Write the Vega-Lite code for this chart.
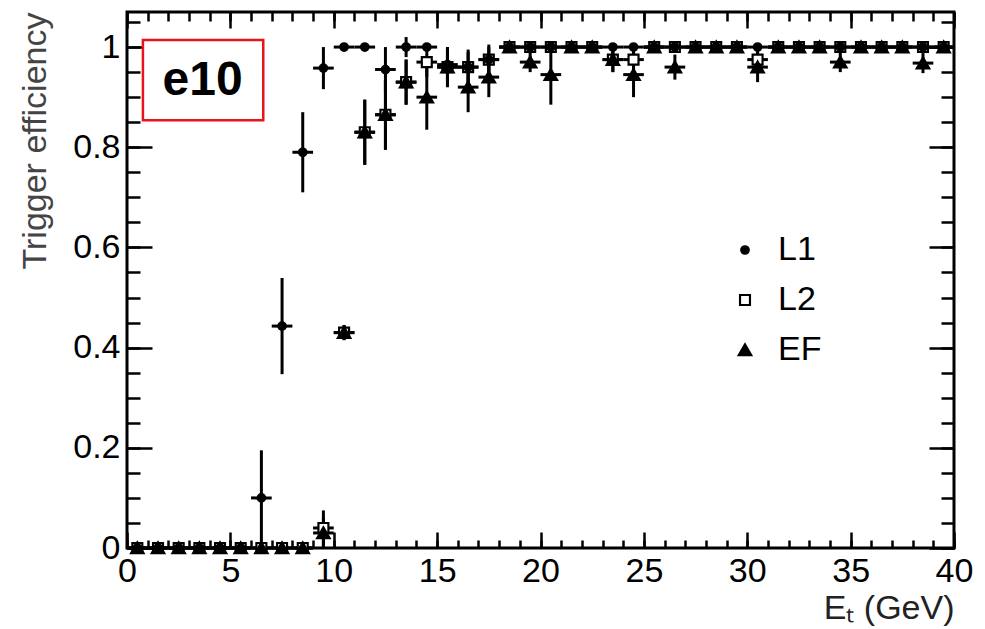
{
  "$schema": "https://vega.github.io/schema/vega-lite/v6.json",
  "width": 827,
  "height": 536,
  "autosize": {"type": "none"},
  "padding": {"left": 127, "top": 12, "right": 31, "bottom": 81},
  "background": "white",
  "config": {
    "view": {"stroke": "black", "strokeWidth": 3},
    "font": "Liberation Sans",
    "axis": {"domain": false, "grid": false, "tickColor": "black", "tickWidth": 2.5, "labelOverlap": false, "labelFlush": false, "labelColor": "black", "labelFont": "Liberation Sans", "labelFontSize": 34},
    "legend": {"orient": "none", "legendX": 601, "legendY": 221, "padding": 0, "labelFont": "Liberation Sans", "labelFontSize": 34, "labelColor": "black", "labelOffset": 16, "rowPadding": 16}
  },
  "datasets": {
    "pts": [
      {"s":"L2","x":0.5,"y":0,"e":0},{"s":"L2","x":1.5,"y":0,"e":0},{"s":"L2","x":2.5,"y":0,"e":0},{"s":"L2","x":3.5,"y":0,"e":0},{"s":"L2","x":4.5,"y":0,"e":0},{"s":"L2","x":5.5,"y":0,"e":0},{"s":"L2","x":6.5,"y":0,"e":0},{"s":"L2","x":7.5,"y":0,"e":0},{"s":"L2","x":8.5,"y":0,"e":0},
      {"s":"L2","x":9.5,"y":0.04,"e":0.035},{"s":"L2","x":10.5,"y":0.43,"e":0.015},{"s":"L2","x":11.5,"y":0.83,"e":0.065},{"s":"L2","x":12.5,"y":0.865,"e":0.07},{"s":"L2","x":13.5,"y":0.93,"e":0.045},{"s":"L2","x":14.5,"y":0.97,"e":0.03},{"s":"L2","x":15.5,"y":0.96,"e":0.04},{"s":"L2","x":16.5,"y":0.96,"e":0.035},{"s":"L2","x":17.5,"y":0.975,"e":0.03},
      {"s":"L2","x":18.5,"y":1,"e":0},{"s":"L2","x":19.5,"y":1,"e":0},{"s":"L2","x":20.5,"y":1,"e":0},{"s":"L2","x":21.5,"y":1,"e":0},{"s":"L2","x":22.5,"y":1,"e":0},{"s":"L2","x":23.5,"y":0.975,"e":0.025},{"s":"L2","x":24.5,"y":0.975,"e":0.025},{"s":"L2","x":25.5,"y":1,"e":0},{"s":"L2","x":26.5,"y":1,"e":0},{"s":"L2","x":27.5,"y":1,"e":0},{"s":"L2","x":28.5,"y":1,"e":0},{"s":"L2","x":29.5,"y":1,"e":0},{"s":"L2","x":30.5,"y":0.975,"e":0.025},{"s":"L2","x":31.5,"y":1,"e":0},{"s":"L2","x":32.5,"y":1,"e":0},{"s":"L2","x":33.5,"y":1,"e":0},{"s":"L2","x":34.5,"y":1,"e":0},{"s":"L2","x":35.5,"y":1,"e":0},{"s":"L2","x":36.5,"y":1,"e":0},{"s":"L2","x":37.5,"y":1,"e":0},{"s":"L2","x":38.5,"y":1,"e":0},{"s":"L2","x":39.5,"y":1,"e":0},
      {"s":"L1","x":0.5,"y":0,"e":0},{"s":"L1","x":1.5,"y":0,"e":0},{"s":"L1","x":2.5,"y":0,"e":0},{"s":"L1","x":3.5,"y":0,"e":0},{"s":"L1","x":4.5,"y":0,"e":0},{"s":"L1","x":5.5,"y":0,"e":0},
      {"s":"L1","x":6.5,"y":0.1,"e":0.095},{"s":"L1","x":7.5,"y":0.443,"e":0.096},{"s":"L1","x":8.5,"y":0.79,"e":0.08},{"s":"L1","x":9.5,"y":0.958,"e":0.042},{"s":"L1","x":10.5,"y":1,"e":0},{"s":"L1","x":11.5,"y":1,"e":0},{"s":"L1","x":12.5,"y":0.955,"e":0.045},{"s":"L1","x":13.5,"y":1,"e":0.02},{"s":"L1","x":14.5,"y":1,"e":0},{"s":"L1","x":15.5,"y":0.965,"e":0.03},{"s":"L1","x":16.5,"y":0.96,"e":0.03},{"s":"L1","x":17.5,"y":0.975,"e":0.025},
      {"s":"L1","x":18.5,"y":1,"e":0},{"s":"L1","x":19.5,"y":1,"e":0},{"s":"L1","x":20.5,"y":1,"e":0},{"s":"L1","x":21.5,"y":1,"e":0},{"s":"L1","x":22.5,"y":1,"e":0},{"s":"L1","x":23.5,"y":1,"e":0},{"s":"L1","x":24.5,"y":1,"e":0},{"s":"L1","x":25.5,"y":1,"e":0},{"s":"L1","x":26.5,"y":1,"e":0},{"s":"L1","x":27.5,"y":1,"e":0},{"s":"L1","x":28.5,"y":1,"e":0},{"s":"L1","x":29.5,"y":1,"e":0},{"s":"L1","x":30.5,"y":1,"e":0},{"s":"L1","x":31.5,"y":1,"e":0},{"s":"L1","x":32.5,"y":1,"e":0},{"s":"L1","x":33.5,"y":1,"e":0},{"s":"L1","x":34.5,"y":1,"e":0},{"s":"L1","x":35.5,"y":1,"e":0},{"s":"L1","x":36.5,"y":1,"e":0},{"s":"L1","x":37.5,"y":1,"e":0},{"s":"L1","x":38.5,"y":1,"e":0},{"s":"L1","x":39.5,"y":1,"e":0},
      {"s":"EF","x":0.5,"y":0,"e":0},{"s":"EF","x":1.5,"y":0,"e":0},{"s":"EF","x":2.5,"y":0,"e":0},{"s":"EF","x":3.5,"y":0,"e":0},{"s":"EF","x":4.5,"y":0,"e":0},{"s":"EF","x":5.5,"y":0,"e":0},{"s":"EF","x":6.5,"y":0,"e":0},{"s":"EF","x":7.5,"y":0,"e":0},{"s":"EF","x":8.5,"y":0,"e":0},
      {"s":"EF","x":9.5,"y":0.03,"e":0.03},{"s":"EF","x":10.5,"y":0.43,"e":0.015},{"s":"EF","x":11.5,"y":0.83,"e":0.065},{"s":"EF","x":12.5,"y":0.865,"e":0.07},{"s":"EF","x":13.5,"y":0.93,"e":0.045},{"s":"EF","x":14.5,"y":0.9,"e":0.065},{"s":"EF","x":15.5,"y":0.96,"e":0.04},{"s":"EF","x":16.5,"y":0.92,"e":0.05},{"s":"EF","x":17.5,"y":0.94,"e":0.04},
      {"s":"EF","x":18.5,"y":1,"e":0},{"s":"EF","x":19.5,"y":0.97,"e":0.02},{"s":"EF","x":20.5,"y":0.945,"e":0.06},{"s":"EF","x":21.5,"y":1,"e":0},{"s":"EF","x":22.5,"y":1,"e":0},{"s":"EF","x":23.5,"y":0.975,"e":0.025},{"s":"EF","x":24.5,"y":0.945,"e":0.045},{"s":"EF","x":25.5,"y":1,"e":0},{"s":"EF","x":26.5,"y":0.96,"e":0.025},{"s":"EF","x":27.5,"y":1,"e":0},{"s":"EF","x":28.5,"y":1,"e":0},{"s":"EF","x":29.5,"y":1,"e":0},{"s":"EF","x":30.5,"y":0.96,"e":0.03},{"s":"EF","x":31.5,"y":1,"e":0},{"s":"EF","x":32.5,"y":1,"e":0},{"s":"EF","x":33.5,"y":1,"e":0},{"s":"EF","x":34.5,"y":0.97,"e":0.02},{"s":"EF","x":35.5,"y":1,"e":0},{"s":"EF","x":36.5,"y":1,"e":0},{"s":"EF","x":37.5,"y":1,"e":0},{"s":"EF","x":38.5,"y":0.968,"e":0.02},{"s":"EF","x":39.5,"y":1,"e":0}
    ],
    "box": [{"x0": 0.77, "x1": 6.59, "y0": 0.854, "y1": 1.014}],
    "lbl": [{"t": "e10", "x": 3.66, "y": 0.933}]
  },
  "layer": [
    {
      "data": {"name": "pts"},
      "mark": {"type": "tick", "orient": "horizontal", "size": 20.65, "thickness": 3, "color": "black", "opacity": 1},
      "encoding": {
        "x": {"field": "x", "type": "quantitative", "scale": {"domain": [0, 40], "nice": false, "zero": false},
          "axis": {"orient": "bottom", "values": [0, 5, 10, 15, 20, 25, 30, 35, 40], "tickSize": -16, "labelPadding": 22, "labelBaseline": "top",
            "title": "Eₜ (GeV)", "titleFont": "Liberation Sans", "titleFontSize": 34, "titleFontWeight": "normal", "titleColor": "#222", "titleAnchor": "end", "titleAlign": "right", "titleBaseline": "alphabetic", "titleX": 827, "titleY": 70}},
        "y": {"field": "y", "type": "quantitative", "scale": {"domain": [0, 1.07], "nice": false, "zero": false},
          "axis": {"orient": "left", "values": [0, 0.2, 0.4, 0.6, 0.8, 1], "format": "~g", "tickSize": -25, "labelPadding": 32,
            "title": "Trigger efficiency", "titleFont": "Liberation Sans", "titleFontSize": 34, "titleFontWeight": "normal", "titleColor": "#444", "titleAngle": -90, "titleAlign": "right", "titleBaseline": "alphabetic", "titleX": -82, "titleY": 0}}
      }
    },
    {
      "data": {"name": "pts"},
      "mark": {"type": "errorbar", "color": "black", "thickness": 3},
      "encoding": {
        "x": {"field": "x", "type": "quantitative", "scale": {"domain": [0, 40], "nice": false, "zero": false},
          "axis": {"orient": "bottom", "values": [0,1,2,3,4,5,6,7,8,9,10,11,12,13,14,15,16,17,18,19,20,21,22,23,24,25,26,27,28,29,30,31,32,33,34,35,36,37,38,39,40], "tickSize": -8, "labels": false, "title": null}},
        "y": {"field": "y", "type": "quantitative", "scale": {"domain": [0, 1.07], "nice": false, "zero": false},
          "axis": {"orient": "left", "values": [0,0.05,0.1,0.15,0.2,0.25,0.3,0.35,0.4,0.45,0.5,0.55,0.6,0.65,0.7,0.75,0.8,0.85,0.9,0.95,1,1.05], "tickSize": -13, "labels": false, "title": null}},
        "yError": {"field": "e"}
      }
    },
    {
      "data": {"name": "pts"},
      "mark": {"type": "point", "opacity": 1, "fillOpacity": 1, "strokeOpacity": 1},
      "encoding": {
        "x": {"field": "x", "type": "quantitative", "scale": {"domain": [0, 40], "nice": false, "zero": false},
          "axis": {"orient": "top", "values": [0, 5, 10, 15, 20, 25, 30, 35, 40], "tickSize": -16, "labels": false, "title": null}},
        "y": {"field": "y", "type": "quantitative", "scale": {"domain": [0, 1.07], "nice": false, "zero": false},
          "axis": {"orient": "right", "values": [0, 0.2, 0.4, 0.6, 0.8, 1], "tickSize": -25, "labels": false, "title": null}},
        "shape": {"field": "s", "type": "nominal", "scale": {"domain": ["L1", "L2", "EF"], "range": ["circle", "square", "triangle-up"]}, "legend": {"title": null}},
        "fill": {"field": "s", "type": "nominal", "scale": {"domain": ["L1", "L2", "EF"], "range": ["black", "white", "black"]}, "legend": {"title": null}},
        "stroke": {"field": "s", "type": "nominal", "scale": {"domain": ["L1", "L2", "EF"], "range": ["black", "black", "black"]}, "legend": {"title": null}},
        "size": {"field": "s", "type": "nominal", "scale": {"domain": ["L1", "L2", "EF"], "range": [68, 130, 52]}, "legend": {"title": null}},
        "strokeWidth": {"field": "s", "type": "nominal", "scale": {"domain": ["L1", "L2", "EF"], "range": [1.5, 2.8, 1.5]}, "legend": {"title": null}}
      }
    },
    {
      "data": {"name": "box"},
      "mark": {"type": "rect", "fill": "white", "stroke": "#e8141b", "strokeWidth": 2.5},
      "encoding": {
        "x": {"field": "x0", "type": "quantitative", "scale": {"domain": [0, 40], "nice": false, "zero": false},
          "axis": {"orient": "top", "values": [0,1,2,3,4,5,6,7,8,9,10,11,12,13,14,15,16,17,18,19,20,21,22,23,24,25,26,27,28,29,30,31,32,33,34,35,36,37,38,39,40], "tickSize": -9, "labels": false, "title": null}},
        "x2": {"field": "x1"},
        "y": {"field": "y0", "type": "quantitative", "scale": {"domain": [0, 1.07], "nice": false, "zero": false},
          "axis": {"orient": "right", "values": [0,0.05,0.1,0.15,0.2,0.25,0.3,0.35,0.4,0.45,0.5,0.55,0.6,0.65,0.7,0.75,0.8,0.85,0.9,0.95,1,1.05], "tickSize": -13, "labels": false, "title": null}},
        "y2": {"field": "y1"}
      }
    },
    {
      "data": {"name": "lbl"},
      "mark": {"type": "text", "font": "Liberation Sans", "fontSize": 48, "fontWeight": "bold", "align": "center", "baseline": "middle", "color": "black"},
      "encoding": {
        "x": {"field": "x", "type": "quantitative", "scale": {"domain": [0, 40], "nice": false, "zero": false}, "axis": null},
        "y": {"field": "y", "type": "quantitative", "scale": {"domain": [0, 1.07], "nice": false, "zero": false}, "axis": null},
        "text": {"field": "t"}
      }
    }
  ],
  "resolve": {"axis": {"x": "independent", "y": "independent"}}
}
